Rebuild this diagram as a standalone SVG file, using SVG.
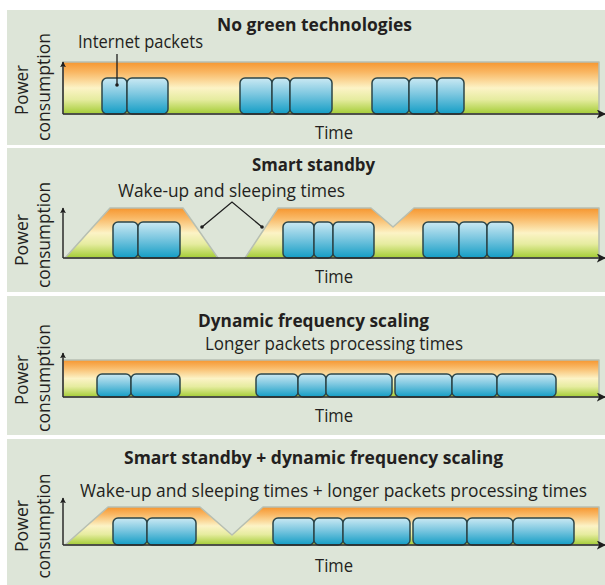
<svg xmlns="http://www.w3.org/2000/svg" width="605" height="585" viewBox="0 0 605 585">
<defs>
<linearGradient id="bar" x1="0" y1="0" x2="0" y2="1">
<stop offset="0" stop-color="#f6962f"/>
<stop offset="0.2" stop-color="#f9b865"/>
<stop offset="0.5" stop-color="#fcf3c6"/>
<stop offset="0.72" stop-color="#e6eca0"/>
<stop offset="1" stop-color="#a3cc35"/>
</linearGradient>
<linearGradient id="pkt" x1="0" y1="0" x2="0" y2="1">
<stop offset="0" stop-color="#cbe9f3"/>
<stop offset="0.45" stop-color="#7cc7e0"/>
<stop offset="1" stop-color="#139dc5"/>
</linearGradient>
<marker id="arr" viewBox="0 0 10 10" refX="9" refY="5" markerWidth="6" markerHeight="6" markerUnits="userSpaceOnUse" orient="auto">
<path d="M0,0 L10,5 L0,10 L2.5,5 Z" fill="#1e1e1e"/>
</marker>
<marker id="arrL" viewBox="0 0 10 10" refX="9" refY="5" markerWidth="9" markerHeight="9" markerUnits="userSpaceOnUse" orient="auto">
<path d="M0,0 L10,5 L0,10 L2.5,5 Z" fill="#1e1e1e"/>
</marker>
</defs>
<style>
.panel{fill:#dde5d8}
.band{fill:url(#bar);stroke:#b7bfb2;stroke-width:1.5;stroke-linejoin:round}
.pk{fill:url(#pkt);stroke:#2c4549;stroke-width:1.5}
.ax{stroke:#2a2a2a;stroke-width:1.5;fill:none}
.ld{stroke:#1e1e1e;stroke-width:1.3;fill:none}
.dot{fill:#1e1e1e}
text{font-family:"Open Sans","Noto Sans","Liberation Sans",sans-serif;fill:#231f20;font-size:18px}
.t{font-weight:bold;font-size:17px}
.v{font-size:17.5px}
</style>
<rect width="605" height="585" fill="#ffffff"/>

<g id="panel1">
<rect class="panel" x="7" y="10" width="598" height="135"/>
<text class="t" x="217" y="31" textLength="195" lengthAdjust="spacingAndGlyphs">No green technologies</text>
<text x="78" y="48" textLength="125" lengthAdjust="spacingAndGlyphs">Internet packets</text>
<rect class="band" x="63" y="62" width="536" height="52"/>
<g id="p1-packets">
<rect class="pk" x="102" y="78" width="25" height="36" rx="5"/>
<rect class="pk" x="127" y="78" width="41" height="36" rx="5"/>
<rect class="pk" x="240" y="78" width="32" height="36" rx="5"/>
<rect class="pk" x="272" y="78" width="18" height="36" rx="5"/>
<rect class="pk" x="290" y="78" width="42" height="36" rx="5"/>
<rect class="pk" x="372" y="78" width="37" height="36" rx="5"/>
<rect class="pk" x="409" y="78" width="28" height="36" rx="5"/>
<rect class="pk" x="437" y="78" width="27" height="36" rx="5"/>
</g>
<text x="315" y="139" textLength="38" lengthAdjust="spacingAndGlyphs">Time</text>
<text class="v" transform="translate(28,90) rotate(-90)" text-anchor="middle" textLength="50" lengthAdjust="spacingAndGlyphs">Power</text>
<text class="v" transform="translate(50,87) rotate(-90)" text-anchor="middle" textLength="108" lengthAdjust="spacingAndGlyphs">consumption</text>
</g>

<g id="panel2">
<rect class="panel" x="7" y="148" width="598" height="144"/>
<text class="t" x="252" y="171" textLength="123" lengthAdjust="spacingAndGlyphs">Smart standby</text>
<text x="118" y="197" textLength="227" lengthAdjust="spacingAndGlyphs">Wake-up and sleeping times</text>
<path class="band" d="M65,258 L110,208 L183,208 L218,258 Z"/>
<path class="band" d="M245,258 L278,208 L371,208 L393,227 L414,208 L599,208 L599,258 Z"/>
<g id="p2-packets">
<rect class="pk" x="113" y="222" width="25" height="36" rx="5"/>
<rect class="pk" x="138" y="222" width="42" height="36" rx="5"/>
<rect class="pk" x="283" y="222" width="31" height="36" rx="5"/>
<rect class="pk" x="314" y="222" width="19" height="36" rx="5"/>
<rect class="pk" x="333" y="222" width="41" height="36" rx="5"/>
<rect class="pk" x="423" y="222" width="36" height="36" rx="5"/>
<rect class="pk" x="459" y="222" width="28" height="36" rx="5"/>
<rect class="pk" x="487" y="222" width="26" height="36" rx="5"/>
</g>
<text x="315" y="283" textLength="38" lengthAdjust="spacingAndGlyphs">Time</text>
<text class="v" transform="translate(28,240) rotate(-90)" text-anchor="middle" textLength="52" lengthAdjust="spacingAndGlyphs">Power</text>
<text class="v" transform="translate(50,235) rotate(-90)" text-anchor="middle" textLength="106" lengthAdjust="spacingAndGlyphs">consumption</text>
</g>

<g id="panel3">
<rect class="panel" x="7" y="296" width="598" height="139"/>
<text class="t" x="198" y="327" textLength="231" lengthAdjust="spacingAndGlyphs">Dynamic frequency scaling</text>
<text x="205" y="350" textLength="258" lengthAdjust="spacingAndGlyphs">Longer packets processing times</text>
<rect class="band" x="63" y="360" width="536" height="37"/>
<g id="p3-packets">
<rect class="pk" x="97" y="374" width="34" height="23" rx="5"/>
<rect class="pk" x="131" y="374" width="49" height="23" rx="5"/>
<rect class="pk" x="256" y="374" width="42" height="23" rx="5"/>
<rect class="pk" x="298" y="374" width="28" height="23" rx="5"/>
<rect class="pk" x="326" y="374" width="66" height="23" rx="5"/>
<rect class="pk" x="395" y="374" width="57" height="23" rx="5"/>
<rect class="pk" x="452" y="374" width="45" height="23" rx="5"/>
<rect class="pk" x="497" y="374" width="59" height="23" rx="5"/>
</g>
<text x="315" y="422" textLength="38" lengthAdjust="spacingAndGlyphs">Time</text>
<text class="v" transform="translate(28,380) rotate(-90)" text-anchor="middle" textLength="50" lengthAdjust="spacingAndGlyphs">Power</text>
<text class="v" transform="translate(50,378) rotate(-90)" text-anchor="middle" textLength="108" lengthAdjust="spacingAndGlyphs">consumption</text>
</g>

<g id="panel4">
<rect class="panel" x="7" y="439" width="598" height="146"/>
<text class="t" x="124" y="464" textLength="379" lengthAdjust="spacingAndGlyphs">Smart standby + dynamic frequency scaling</text>
<text x="80" y="497" textLength="507" lengthAdjust="spacingAndGlyphs">Wake-up and sleeping times + longer packets processing times</text>
<path class="band" d="M65,545 L108,507 L200,507 L232,535 L263,507 L599,507 L599,545 Z"/>
<g id="p4-packets">
<rect class="pk" x="113" y="518" width="34" height="27" rx="5"/>
<rect class="pk" x="147" y="518" width="49" height="27" rx="5"/>
<rect class="pk" x="273" y="518" width="41" height="27" rx="5"/>
<rect class="pk" x="314" y="518" width="29" height="27" rx="5"/>
<rect class="pk" x="343" y="518" width="67" height="27" rx="5"/>
<rect class="pk" x="413" y="518" width="54" height="27" rx="5"/>
<rect class="pk" x="467" y="518" width="46" height="27" rx="5"/>
<rect class="pk" x="513" y="518" width="61" height="27" rx="5"/>
</g>
<text x="315" y="572" textLength="38" lengthAdjust="spacingAndGlyphs">Time</text>
<text class="v" transform="translate(28,526) rotate(-90)" text-anchor="middle" textLength="52" lengthAdjust="spacingAndGlyphs">Power</text>
<text class="v" transform="translate(50,526) rotate(-90)" text-anchor="middle" textLength="105" lengthAdjust="spacingAndGlyphs">consumption</text>
</g>

<g id="connectors">
<line class="ax" x1="63" y1="114" x2="63" y2="62" marker-end="url(#arr)"/>
<line class="ax" x1="63" y1="114" x2="605" y2="114" marker-end="url(#arrL)"/>
<line class="ax" x1="63" y1="258" x2="63" y2="208" marker-end="url(#arr)"/>
<line class="ax" x1="63" y1="258" x2="605" y2="258" marker-end="url(#arrL)"/>
<line class="ax" x1="63" y1="397" x2="63" y2="353" marker-end="url(#arr)"/>
<line class="ax" x1="63" y1="397" x2="605" y2="397" marker-end="url(#arrL)"/>
<line class="ax" x1="63" y1="545" x2="63" y2="498" marker-end="url(#arr)"/>
<line class="ax" x1="63" y1="545" x2="605" y2="545" marker-end="url(#arrL)"/>
<line class="ld" x1="117" y1="54" x2="117" y2="85"/>
<circle class="dot" cx="117" cy="85" r="1.8"/>
<path class="ld" d="M202,227 L232,202 L262,227"/>
<circle class="dot" cx="202" cy="227" r="1.8"/>
<circle class="dot" cx="262" cy="227" r="1.8"/>
</g>
</svg>
